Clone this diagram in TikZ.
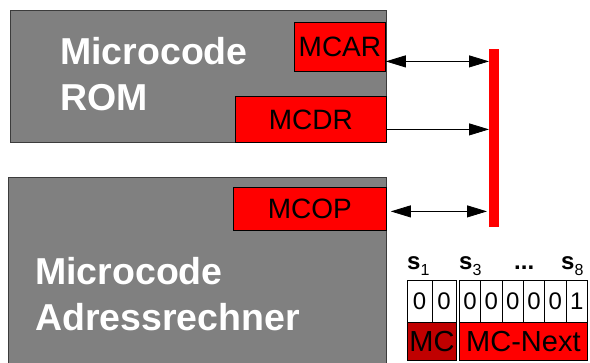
\documentclass[tikz,border=0pt]{standalone}
\usepackage{fontspec}
\setmainfont{Liberation Sans}
\usetikzlibrary{arrows.meta}
\definecolor{boxgray}{RGB}{128,128,128}
\definecolor{edgegray}{RGB}{60,60,60}
\definecolor{dred}{RGB}{192,0,0}
\begin{document}
\begin{tikzpicture}[x=1pt,y=-1pt,
  unit/.style={draw=edgegray, line width=1pt, fill=boxgray, inner sep=0, anchor=north west},
  reg/.style={draw=black, line width=0.8pt, fill=red, inner sep=0, anchor=north west,
              font=\fontsize{28}{28}\selectfont},
  bigtext/.style={text=white, font=\bfseries\fontsize{37.5}{46}\selectfont, align=left, inner sep=0, anchor=base west},
  arr/.style={line width=0.8pt, -{Triangle[length=20pt,width=12pt]}},
  darr/.style={line width=0.8pt, {Triangle[length=20pt,width=12pt]}-{Triangle[length=20pt,width=12pt]}},
  cell/.style={draw=black, line width=0.8pt, fill=white, inner sep=0, anchor=north west,
               minimum height=42, font=\fontsize{24}{24}\selectfont},
  mcbox/.style={draw=black, line width=0.8pt, inner sep=0, anchor=north west,
               minimum height=38, font=\fontsize{29}{29}\selectfont},
  slabel/.style={inner sep=0, anchor=base west, font=\bfseries\fontsize{24}{24}\selectfont},
  sub/.style={}
]
\clip (0,0) rectangle (590,363);
\fill[white] (0,0) rectangle (590,363);

% units
\node[unit, minimum width=376, minimum height=132] (rom) at (10,10) {};
\node[unit, minimum width=378, minimum height=210] (adr) at (8,177) {};

\node[bigtext] (romlabel) at (60,111) {Microcode\\ROM};
\node[bigtext] (adrlabel) at (35,331) {Microcode\\Adressrechner};

% registers
\node[reg, minimum width=91, minimum height=49] (mcar) at (294,22) {MCAR};
\node[reg, minimum width=151, minimum height=46] (mcdr) at (235,96) {MCDR};
\node[reg, minimum width=153, minimum height=43] (mcop) at (233,187) {MCOP};

% bus
\node[fill=red, inner sep=0, anchor=north west, minimum width=10, minimum height=178] (bus) at (489,49) {};

% connectors
\draw[darr] ([yshift=-14.5pt]mcar.east) -- ([yshift=-14.5pt]mcar.east -| bus.west);
\draw[arr] ([yshift=-10pt]mcdr.east) -- ([yshift=-10pt]mcdr.east -| bus.west);
\draw[darr, shorten <=4pt, shorten >=2pt] ([yshift=-2.5pt]mcop.east) -- ([yshift=-2.5pt]mcop.east -| bus.west);

% bit labels
\node[slabel] (s1) at (407,270) {s\raisebox{-6pt}{\mdseries\fontsize{16}{16}\selectfont 1}};
\node[slabel] (s3) at (459,270) {s\raisebox{-6pt}{\mdseries\fontsize{16}{16}\selectfont 3}};
\node[slabel] (dots) at (514,270) {...};
\node[slabel] (s8) at (561,270) {s\raisebox{-6pt}{\mdseries\fontsize{16}{16}\selectfont 8}};

% bit cells
\node[cell, minimum width=24.5] (b1) at (407,280) {0};
\node[cell, minimum width=24.5] (b2) at (431.5,280) {0};
\foreach \i/\d in {0/0,1/0,2/0,3/0,4/0,5/1}{
  \node[cell, minimum width=21.33] (c\i) at (459+21.33*\i,280) {\d};
}

% fields
\node[mcbox, fill=dred, minimum width=49] (mc) at (407,322) {MC};
\node[mcbox, fill=red, minimum width=128] (mcnext) at (459,322) {MC-Next};
\end{tikzpicture}
\end{document}
